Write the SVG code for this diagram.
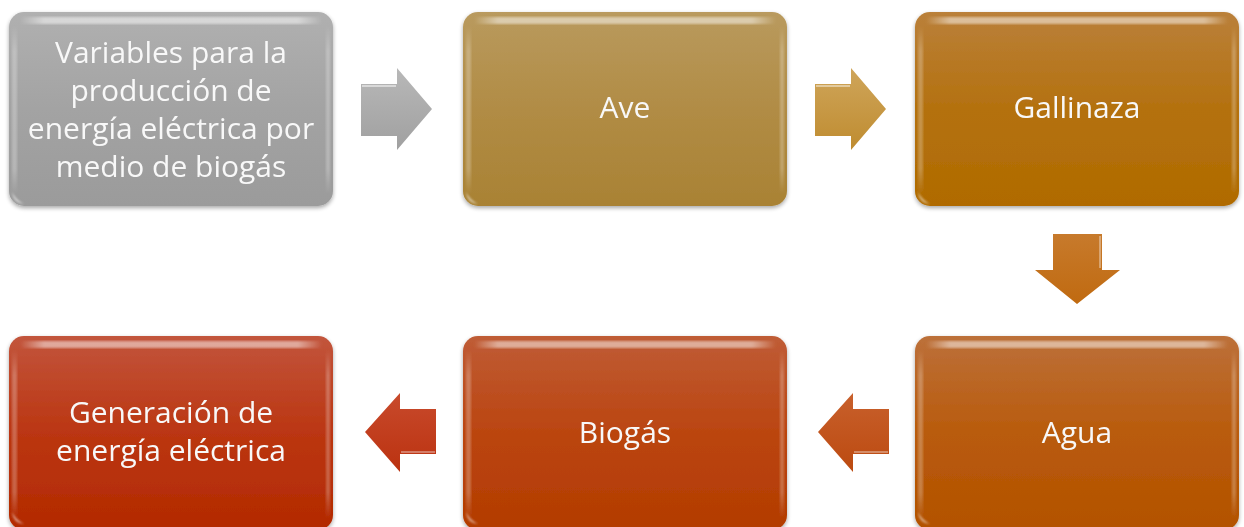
<svg xmlns="http://www.w3.org/2000/svg" width="1244" height="527" viewBox="0 0 1244 527">
  <defs>
    <linearGradient id="gGray" x1="0" y1="0" x2="0" y2="1">
      <stop offset="0" stop-color="#b0b0b0"/>
      <stop offset="0.5" stop-color="#a3a3a3"/>
      <stop offset="1" stop-color="#9b9b9b"/>
    </linearGradient>
    <linearGradient id="gAve" x1="0" y1="0" x2="0" y2="1">
      <stop offset="0" stop-color="#b99a5e"/>
      <stop offset="0.5" stop-color="#b18c45"/>
      <stop offset="1" stop-color="#a98234"/>
    </linearGradient>
    <linearGradient id="gGal" x1="0" y1="0" x2="0" y2="1">
      <stop offset="0" stop-color="#ba803a"/>
      <stop offset="0.5" stop-color="#b4710f"/>
      <stop offset="1" stop-color="#b06b00"/>
    </linearGradient>
    <linearGradient id="gAgua" x1="0" y1="0" x2="0" y2="1">
      <stop offset="0" stop-color="#bc703a"/>
      <stop offset="0.5" stop-color="#b95b0c"/>
      <stop offset="1" stop-color="#b35200"/>
    </linearGradient>
    <linearGradient id="gBio" x1="0" y1="0" x2="0" y2="1">
      <stop offset="0" stop-color="#bf5c36"/>
      <stop offset="0.5" stop-color="#bb4510"/>
      <stop offset="1" stop-color="#b33c00"/>
    </linearGradient>
    <linearGradient id="gGen" x1="0" y1="0" x2="0" y2="1">
      <stop offset="0" stop-color="#c2553c"/>
      <stop offset="0.5" stop-color="#bb3612"/>
      <stop offset="1" stop-color="#b32a00"/>
    </linearGradient>
    <!-- bevel highlight along the top edge -->
    <linearGradient id="gTopGloss" x1="0" y1="0" x2="1" y2="0">
      <stop offset="0" stop-color="#fff" stop-opacity="0"/>
      <stop offset="0.08" stop-color="#fff" stop-opacity="0.5"/>
      <stop offset="0.92" stop-color="#fff" stop-opacity="0.5"/>
      <stop offset="1" stop-color="#fff" stop-opacity="0"/>
    </linearGradient>
    <linearGradient id="gSideGloss" x1="0" y1="0" x2="0" y2="1">
      <stop offset="0" stop-color="#fff" stop-opacity="0"/>
      <stop offset="0.15" stop-color="#fff" stop-opacity="0.25"/>
      <stop offset="0.85" stop-color="#fff" stop-opacity="0.25"/>
      <stop offset="1" stop-color="#fff" stop-opacity="0"/>
    </linearGradient>
    <!-- arrow fills -->
    <linearGradient id="aGray" x1="0" y1="0" x2="0" y2="1">
      <stop offset="0" stop-color="#b8b8b8"/>
      <stop offset="1" stop-color="#a0a0a0"/>
    </linearGradient>
    <linearGradient id="aGold" x1="0" y1="0" x2="0" y2="1">
      <stop offset="0" stop-color="#cfa55a"/>
      <stop offset="1" stop-color="#bf8c30"/>
    </linearGradient>
    <linearGradient id="aOrange" x1="0" y1="0" x2="0" y2="1">
      <stop offset="0" stop-color="#c77a2c"/>
      <stop offset="1" stop-color="#c06a10"/>
    </linearGradient>
    <linearGradient id="aRust" x1="0" y1="0" x2="0" y2="1">
      <stop offset="0" stop-color="#c8602c"/>
      <stop offset="1" stop-color="#bc4a10"/>
    </linearGradient>
    <linearGradient id="aRed" x1="0" y1="0" x2="0" y2="1">
      <stop offset="0" stop-color="#c84a2c"/>
      <stop offset="1" stop-color="#bb3210"/>
    </linearGradient>
    <filter id="soft" x="-10%" y="-10%" width="120%" height="120%">
      <feGaussianBlur stdDeviation="1.2"/>
    </filter>
    <filter id="shadow" x="-5%" y="-5%" width="110%" height="115%">
      <feGaussianBlur in="SourceAlpha" stdDeviation="2"/>
      <feOffset dx="0" dy="1.5"/>
      <feComponentTransfer><feFuncA type="linear" slope="0.35"/></feComponentTransfer>
      <feMerge><feMergeNode/><feMergeNode in="SourceGraphic"/></feMerge>
    </filter>
  </defs>
  <style>
    .lbl { font-family: "Open Sans", "Liberation Sans", sans-serif; font-size: 30px; fill: #f8f8f8; text-anchor: middle; }
    .top { fill: url(#gTopGloss); filter: url(#soft); }
    .side { fill: url(#gSideGloss); filter: url(#soft); }
    .corner { fill: #fff; opacity: 0.55; filter: url(#soft); }
  </style>

  <rect width="1244" height="527" fill="#ffffff"/>

  <!-- connectors -->
  <g id="connectors">
    <g id="arrow-1">
      <path d="M361,84 H397 V68 L432,109 L397,150 V136 H361 Z" fill="url(#aGray)"/>
      <path d="M362,86 H396" stroke="#fff" stroke-opacity="0.5" stroke-width="2"/>
    </g>
    <g id="arrow-2">
      <path d="M815,84 H851 V68 L886,109 L851,150 V136 H815 Z" fill="url(#aGold)"/>
      <path d="M816,86 H850" stroke="#fff" stroke-opacity="0.45" stroke-width="2"/>
    </g>
    <g id="arrow-3">
      <path d="M1053,234 H1102 V270 H1120 L1077,304 L1035,270 H1053 Z" fill="url(#aOrange)"/>
      <path d="M1100,236 V268" stroke="#fff" stroke-opacity="0.35" stroke-width="2"/>
    </g>
    <g id="arrow-4">
      <path d="M889,409 H853 V393 L818,432 L853,472 V454 H889 Z" fill="url(#aRust)"/>
      <path d="M854,452 H888" stroke="#fff" stroke-opacity="0.35" stroke-width="2"/>
    </g>
    <g id="arrow-5">
      <path d="M436,409 H400 V393 L365,432 L400,472 V454 H436 Z" fill="url(#aRed)"/>
      <path d="M401,452 H435" stroke="#fff" stroke-opacity="0.35" stroke-width="2"/>
    </g>
  </g>

  <!-- top row -->
  <g id="node-variables" filter="url(#shadow)">
    <rect x="9" y="12" width="324" height="194" rx="15" fill="url(#gGray)"/>
    <rect x="20" y="17" width="302" height="7" rx="3.5" class="top"/>
    <rect x="12" y="26" width="5" height="168" rx="2.5" class="side"/>
    <rect x="326" y="26" width="4" height="168" rx="2" class="side"/>
    <path d="M12,192 Q13,203 24,204 Q16,200 12,192 Z" class="corner"/>
    <text class="lbl" x="171" y="63">Variables para la</text>
    <text class="lbl" x="171" y="101">producción de</text>
    <text class="lbl" x="171" y="139">energía eléctrica por</text>
    <text class="lbl" x="171" y="177">medio de biogás</text>
  </g>

  <g id="node-ave" filter="url(#shadow)">
    <rect x="463" y="12" width="324" height="194" rx="15" fill="url(#gAve)"/>
    <rect x="474" y="17" width="302" height="7" rx="3.5" class="top"/>
    <rect x="466" y="26" width="5" height="168" rx="2.5" class="side"/>
    <rect x="780" y="26" width="4" height="168" rx="2" class="side"/>
    <path d="M466,192 Q467,203 478,204 Q470,200 466,192 Z" class="corner"/>
    <text class="lbl" x="625" y="118">Ave</text>
  </g>

  <g id="node-gallinaza" filter="url(#shadow)">
    <rect x="915" y="12" width="324" height="194" rx="15" fill="url(#gGal)"/>
    <rect x="926" y="17" width="302" height="7" rx="3.5" class="top"/>
    <rect x="918" y="26" width="5" height="168" rx="2.5" class="side"/>
    <rect x="1232" y="26" width="4" height="168" rx="2" class="side"/>
    <path d="M918,192 Q919,203 930,204 Q922,200 918,192 Z" class="corner"/>
    <text class="lbl" x="1077" y="118">Gallinaza</text>
  </g>

  <!-- bottom row -->
  <g id="node-agua" filter="url(#shadow)">
    <rect x="915" y="336" width="324" height="194" rx="15" fill="url(#gAgua)"/>
    <rect x="926" y="341" width="302" height="7" rx="3.5" class="top"/>
    <rect x="918" y="350" width="5" height="168" rx="2.5" class="side"/>
    <rect x="1232" y="350" width="4" height="168" rx="2" class="side"/>
    <path d="M918,512 Q919,523 930,524 Q922,520 918,512 Z" class="corner"/>
    <text class="lbl" x="1077" y="443">Agua</text>
  </g>

  <g id="node-biogas" filter="url(#shadow)">
    <rect x="463" y="336" width="324" height="194" rx="15" fill="url(#gBio)"/>
    <rect x="474" y="341" width="302" height="7" rx="3.5" class="top"/>
    <rect x="466" y="350" width="5" height="168" rx="2.5" class="side"/>
    <rect x="780" y="350" width="4" height="168" rx="2" class="side"/>
    <path d="M466,512 Q467,523 478,524 Q470,520 466,512 Z" class="corner"/>
    <text class="lbl" x="625" y="443">Biogás</text>
  </g>

  <g id="node-generacion" filter="url(#shadow)">
    <rect x="9" y="336" width="324" height="194" rx="15" fill="url(#gGen)"/>
    <rect x="20" y="341" width="302" height="7" rx="3.5" class="top"/>
    <rect x="12" y="350" width="5" height="168" rx="2.5" class="side"/>
    <rect x="326" y="350" width="4" height="168" rx="2" class="side"/>
    <path d="M12,512 Q13,523 24,524 Q16,520 12,512 Z" class="corner"/>
    <text class="lbl" x="171" y="423">Generación de</text>
    <text class="lbl" x="171" y="461">energía eléctrica</text>
  </g>
</svg>
